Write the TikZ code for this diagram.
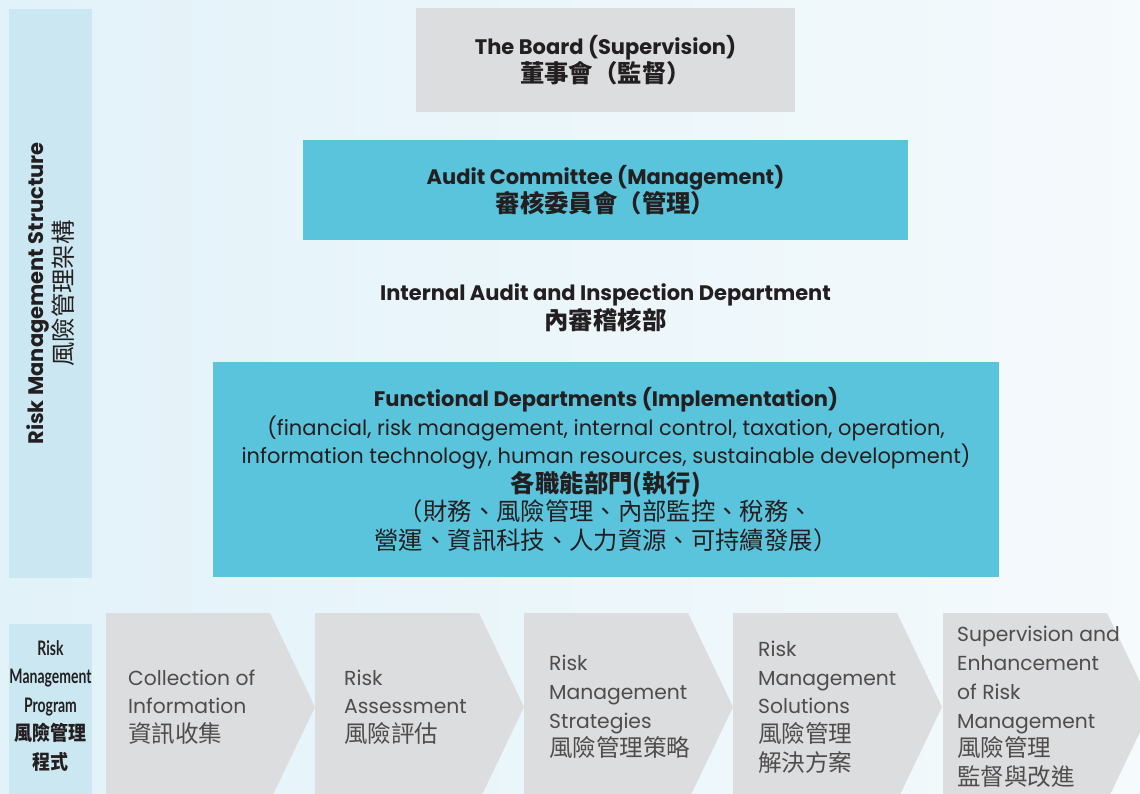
\documentclass[tikz,border=0pt]{standalone}
\usepackage{fontspec}
\setmainfont{Poppins}
\newfontfamily\cjk[Scale=1.16]{Noto Sans CJK TC}
\newfontfamily\narrow[FakeStretch=0.7]{Lato}
\newfontfamily\narrowcjk[FakeStretch=0.9]{Noto Sans CJK TC}
\usetikzlibrary{positioning}

\definecolor{bgleft}{HTML}{E2F2F9}
\definecolor{bgright}{HTML}{F5FAFC}
\definecolor{barblue}{HTML}{CBE8F2}
\definecolor{boxcyan}{HTML}{5BC4DD}
\definecolor{boxgrey}{HTML}{DCDDDF}
\definecolor{ink}{HTML}{231F20}

\begin{document}
\begin{tikzpicture}[x=1pt,y=-1pt,
    box/.style={inner sep=0pt,align=center,text=ink,font=\fontsize{21}{28.6}\selectfont},
    bar/.style={fill=barblue,inner sep=0pt,minimum width=83pt},
    stage/.style={anchor=west,align=left,inner sep=0pt,text=ink!80,font=\fontsize{20.3}{28.7}\selectfont}]
    \clip (0,0) rectangle (1140,794);
    \shade[left color=bgleft,right color=bgright] (0,0) rectangle (1140,794);

    % structure
    \node[bar,minimum height=569pt] (structbar) at (50.5,293.5) {};
    \node[box,rotate=90] (structlabel) at (structbar) {\textbf{Risk Management Structure}\\{\cjk 風險管理架構}};

    \node[box,fill=boxgrey,minimum width=379pt,minimum height=104pt] (board) at (605.5,60)
        {\textbf{The Board (Supervision)}\\{\cjk\bfseries 董事會（監督）}};
    \node[box,fill=boxcyan,minimum width=605pt,minimum height=100pt] (audit) at (605.5,190)
        {\textbf{Audit Committee (Management)}\\{\cjk\bfseries 審核委員會（管理）}};
    \node[box] (inspection) at (605.5,307.5)
        {\textbf{Internal Audit and Inspection Department}\\{\cjk\bfseries 內審稽核部}};
    \node[box,fill=boxcyan,minimum width=786pt,minimum height=215pt] (functional) at (606,469.5)
        {\textbf{Functional Departments (Implementation)}\\
         (financial, risk management, internal control, taxation, operation,\\
         information technology, human resources, sustainable development)\\
         {\cjk\bfseries 各職能部門(執行)}\\
         {\cjk （財務、風險管理、內部監控、稅務、}\\
         {\cjk 營運、資訊科技、人力資源、可持續發展）}};

    % program
    \node[bar,minimum height=175pt] (progbar) at (50.5,711.5) {};
    \node[box,font=\fontsize{20}{28.5}\selectfont] (proglabel) at (50.5,706)
        {\narrow\bfseries Risk\\\narrow\bfseries Management\\\narrow\bfseries Program\\
         {\narrowcjk\bfseries 風險管理}\\{\narrowcjk\bfseries 程式}};

    \foreach \x in {106,315,524,733,943}
        \fill[boxgrey] (\x,613) -- ++(164,0) -- ++(45,94) -- ++(-45,94) -- ++(-164,0) -- cycle;

    \node[stage] (collect) at (128,707) {Collection of\\Information\\{\cjk 資訊收集}};
    \node[stage] (assess) at (344,707) {Risk\\Assessment\\{\cjk 風險評估}};
    \node[stage] (strategy) at (549,707) {Risk\\Management\\Strategies\\{\cjk 風險管理策略}};
    \node[stage] (solution) at (758,707) {Risk\\Management\\Solutions\\{\cjk 風險管理}\\{\cjk 解決方案}};
    \node[stage] (supervise) at (957,707) {Supervision and\\Enhancement\\of Risk\\Management\\{\cjk 風險管理}\\{\cjk 監督與改進}};
\end{tikzpicture}
\end{document}
